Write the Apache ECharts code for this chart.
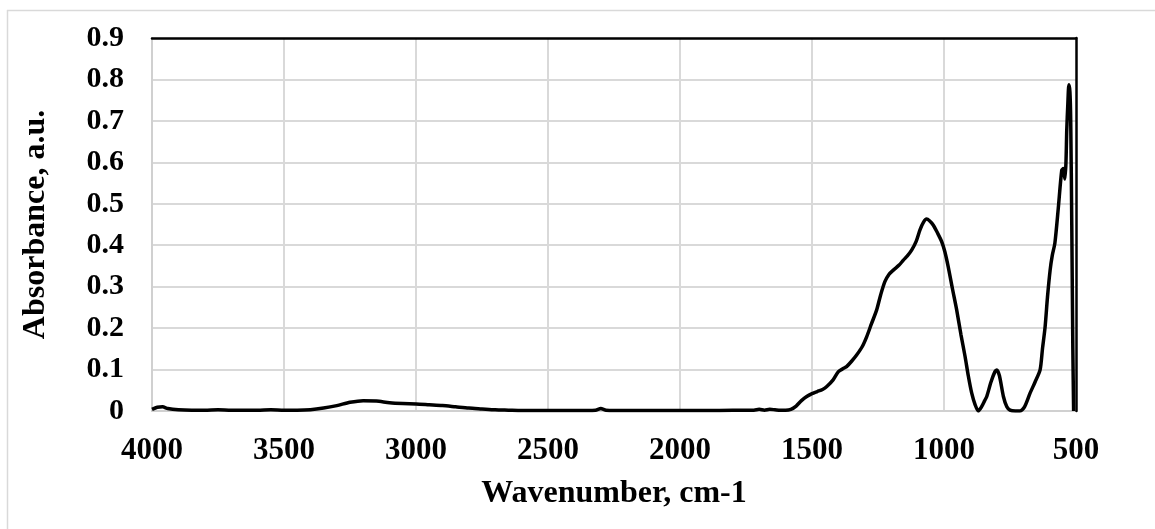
<!DOCTYPE html>
<html>
<head>
<meta charset="utf-8">
<script src="https://cdn.jsdelivr.net/npm/echarts@6/dist/echarts.min.js"></script>
<style>
html,body{margin:0;padding:0;background:#fff;}
#chart{width:1155px;height:529px;}
</style>
</head>
<body>
<div id="chart"></div>
<script>
const wavenumber = [4000,3980,3960,3940,3900,3850,3800,3750,3700,3650,3600,3550,3500,3450,3400,3350,3300,3250,3200,3150,3100,3050,3000,2950,2900,2850,2800,2750,2700,2650,2600,2500,2400,2320,2300,2280,2200,2100,2000,1900,1800,1720,1700,1680,1660,1640,1620,1600,1580,1560,1540,1520,1500,1480,1460,1444,1420,1400,1380,1369,1350,1331,1310,1293,1275,1255,1240,1224,1208,1192,1170,1154,1138,1122,1105,1091,1078,1066,1055,1041,1025,1009,997,984,968,952,936,920,908,895,882,870,858,846,838,822,807,800,790,775,762,750,730,712,695,674,655,636,627,617,608,598,590,580,567,554,548,542,538,535,531,527,523,520,516,512,509];
const absorbance = [0.004,0.009,0.010,0.006,0.003,0.002,0.002,0.003,0.002,0.002,0.002,0.003,0.002,0.002,0.003,0.007,0.013,0.021,0.025,0.024,0.020,0.018,0.017,0.015,0.013,0.010,0.007,0.005,0.003,0.002,0.001,0.001,0.001,0.002,0.006,0.002,0.001,0.001,0.001,0.001,0.002,0.002,0.004,0.002,0.004,0.003,0.002,0.002,0.004,0.012,0.025,0.035,0.042,0.047,0.052,0.059,0.075,0.095,0.103,0.107,0.120,0.135,0.155,0.179,0.210,0.244,0.280,0.312,0.330,0.340,0.352,0.364,0.375,0.389,0.410,0.437,0.455,0.463,0.459,0.449,0.430,0.409,0.385,0.348,0.295,0.244,0.185,0.131,0.085,0.043,0.015,0.000,0.010,0.025,0.035,0.070,0.095,0.099,0.085,0.035,0.010,0.002,0.000,0.000,0.010,0.043,0.070,0.099,0.150,0.203,0.275,0.340,0.375,0.405,0.490,0.581,0.585,0.560,0.600,0.678,0.740,0.787,0.770,0.700,0.450,0.150,0.000];
const xTicks = {min: 500, max: 4000, step: 500};
const yTicks = {min: 0, max: 0.9, step: 0.1};
const xTitle = 'Wavenumber, cm-1';
const yTitle = 'Absorbance, a.u.';

const points = wavenumber.map((w, i) => [w, absorbance[i]]);
const font = 'Liberation Serif';
const chart = echarts.init(document.getElementById('chart'));
chart.setOption({
  animation: false,
  backgroundColor: '#fff',
  grid: {left: 152, right: 79, top: 38, bottom: 118},
  graphic: [
    {type: 'line', shape: {x1: 7, y1: 10.5, x2: 1155, y2: 10.5}, style: {stroke: '#d9d9d9', lineWidth: 1.5}, silent: true},
    {type: 'line', shape: {x1: 7.5, y1: 10, x2: 7.5, y2: 529}, style: {stroke: '#d9d9d9', lineWidth: 1.5}, silent: true}
  ],
  xAxis: [{
    type: 'value', inverse: true, min: xTicks.min, max: xTicks.max, interval: xTicks.step,
    position: 'bottom',
    name: xTitle, nameLocation: 'middle', nameGap: 67,
    nameTextStyle: {fontFamily: font, fontWeight: 'bold', fontSize: 32, color: '#000'},
    axisLine: {onZero: false, lineStyle: {color: '#d0d0d0', width: 2}},
    axisTick: {show: false},
    axisLabel: {fontFamily: font, fontWeight: 'bold', fontSize: 31, color: '#000', margin: 24,
      formatter: v => String(v)},
    splitLine: {show: true, showMinLine: false, lineStyle: {color: '#d9d9d9', width: 2}}
  }, {
    type: 'value', inverse: true, min: xTicks.min, max: xTicks.max, position: 'top', z: 10,
    axisLine: {show: true, onZero: false, lineStyle: {color: '#000', width: 2.5}},
    axisTick: {show: false}, axisLabel: {show: false}, splitLine: {show: false}
  }],
  yAxis: [{
    type: 'value', min: yTicks.min, max: yTicks.max, interval: yTicks.step,
    name: yTitle, nameLocation: 'middle', nameGap: 100,
    nameTextStyle: {fontFamily: font, fontWeight: 'bold', fontSize: 32, color: '#000'},
    axisLine: {show: true, onZero: false, lineStyle: {color: '#d0d0d0', width: 2}},
    axisTick: {show: false},
    axisLabel: {fontFamily: font, fontWeight: 'bold', fontSize: 30, color: '#000', margin: 28},
    splitLine: {show: true, showMaxLine: false, lineStyle: {color: '#d9d9d9', width: 2}}
  }, {
    type: 'value', min: yTicks.min, max: yTicks.max, position: 'right', z: 10,
    axisLine: {show: true, onZero: false, lineStyle: {color: '#000', width: 2.5}},
    axisTick: {show: false}, axisLabel: {show: false}, splitLine: {show: false}
  }],
  series: [{
    type: 'line', data: points, xAxisIndex: 0, yAxisIndex: 0,
    showSymbol: false, smooth: 0.25,
    lineStyle: {color: '#000', width: 3.5},
    z: 5
  }]
});
</script>
</body>
</html>
